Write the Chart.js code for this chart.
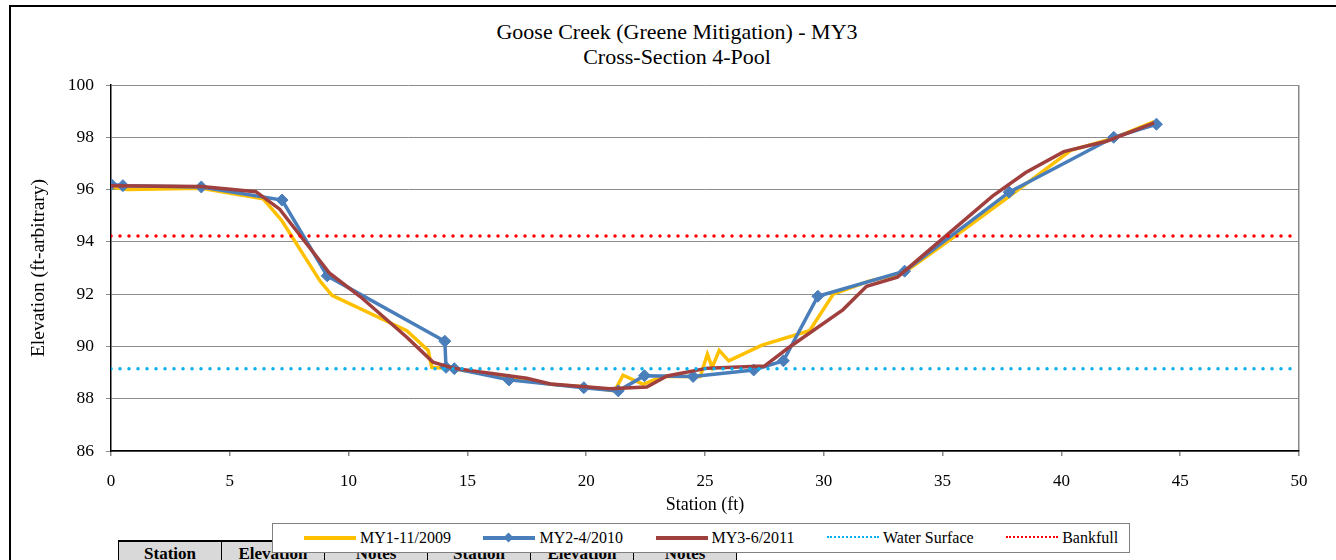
<!DOCTYPE html>
<html>
<head>
<meta charset="utf-8">
<title>Goose Creek - Cross-Section 4-Pool</title>
<script src="https://cdn.jsdelivr.net/npm/chart.js@4.4.0/dist/chart.umd.min.js"></script>
<style>
  html, body { margin: 0; padding: 0; background: #fff; }
  #wrap { position: relative; width: 1336px; height: 560px; overflow: hidden; font-family: "Liberation Serif", "Times New Roman", serif; }
  #frame { position: absolute; left: 9px; top: 5px; width: 1400px; height: 700px; border-left: 2px solid #000; border-top: 2px solid #000; }
  #chart { position: absolute; left: 0; top: 0; }
  #title { position: absolute; left: 377px; width: 600px; top: 19px; text-align: center; font-size: 22px; line-height: 25px; color: #000; }
  #dataTable { position: absolute; left: 118px; top: 540px; border-collapse: collapse; }
  #dataTable th { width: 102px; height: 26px; padding: 2px 0 0 0; vertical-align: top; background: #d9d9d9; border: 1px solid #000; border-top: 2px solid #000; font-size: 17px; font-weight: bold; }
  #legend { position: absolute; left: 272px; top: 523px; width: 858px; height: 30px; background: #fff; border: 1px solid #808080; display: flex; align-items: center; padding-left: 31px; box-sizing: border-box; font-size: 16px; white-space: nowrap; }
  .item { display: flex; align-items: center; flex-shrink: 0; margin-right: 32.5px; }
  .swatch { position: relative; width: 52px; height: 10px; margin-right: 4px; flex-shrink: 0; }
  .swatch .ln { position: absolute; left: 0; right: 0; top: 3px; height: 0; }
  .swatch .dm { position: absolute; left: 22px; top: 1px; width: 7px; height: 7px; transform: rotate(45deg); }
</style>
</head>
<body>
<div id="wrap">
  <div id="frame"></div>
  <div id="title"></div>
  <table id="dataTable">
    <tr><th>Station</th><th>Elevation</th><th>Notes</th><th>Station</th><th>Elevation</th><th>Notes</th></tr>
  </table>
  <canvas id="chart" width="1336" height="560"></canvas>
  <div id="legend"></div>
</div>
<script>
const titleLines = ['Goose Creek (Greene Mitigation) - MY3', 'Cross-Section 4-Pool'];
const xTitle = 'Station (ft)';
const yTitle = 'Elevation (ft-arbitrary)';

// x ticks 0..50 by 5, y ticks 86..100 by 2
const xTicks = [0, 5, 10, 15, 20, 25, 30, 35, 40, 45, 50];
const yTicks = [86, 88, 90, 92, 94, 96, 98, 100];

// MY1-11/2009
const sta1 = [0, 0.7, 3.8, 6.4, 7.2, 8.8, 9.3, 12.45, 13.35, 13.5, 14.4, 16.8, 18.5, 20.0, 21.2, 21.55, 22.4, 23.2, 24.8, 25.1, 25.3, 25.6, 26.0, 27.4, 29.4, 30.4, 31.9, 33.35, 35.5, 37.75, 40.4, 42.2, 43.9];
const elev1 = [96.1, 96.0, 96.05, 95.65, 94.8, 92.5, 91.95, 90.6, 89.85, 89.2, 89.15, 88.8, 88.55, 88.45, 88.3, 88.9, 88.55, 88.85, 88.85, 89.7, 89.2, 89.85, 89.45, 90.05, 90.6, 92.0, 92.5, 92.8, 94.2, 95.7, 97.5, 97.97, 98.6];

// MY2-4/2010
const sta2 = [0, 0.5, 3.8, 7.2, 9.1, 14.05, 14.1, 14.45, 16.75, 19.9, 21.35, 22.45, 24.5, 27.05, 28.3, 29.75, 33.4, 37.8, 42.2, 44.0];
const elev2 = [96.2, 96.15, 96.1, 95.6, 92.7, 90.2, 89.2, 89.15, 88.72, 88.42, 88.3, 88.88, 88.85, 89.1, 89.45, 91.92, 92.88, 95.9, 98.0, 98.5];

// MY3-6/2011
const sta3 = [0, 3.8, 6.1, 7.1, 9.2, 10.5, 12.45, 13.55, 14.4, 17.5, 18.5, 21.0, 22.55, 23.4, 25.1, 27.5, 28.5, 30.8, 31.8, 33.1, 37.1, 38.5, 40.1, 41.9, 43.9];
const elev3 = [96.15, 96.12, 95.92, 95.25, 92.8, 91.9, 90.35, 89.4, 89.17, 88.78, 88.56, 88.38, 88.45, 88.87, 89.17, 89.25, 89.94, 91.4, 92.3, 92.65, 95.75, 96.65, 97.45, 97.85, 98.55];

const waterSurface = 89.15;
const bankfull = 94.22;

function pts(xs, ys) {
  return xs.map((x, i) => ({ x: x, y: ys[i] }));
}
function flat(y) {
  return [{ x: xTicks[0], y: y }, { x: xTicks[xTicks.length - 1], y: y }];
}

const serif = '"Liberation Serif", "Times New Roman", serif';

document.getElementById('title').innerHTML = titleLines.join('<br>');

const datasets = [
  { label: 'MY1-11/2009', data: pts(sta1, elev1), borderColor: '#FFC000', backgroundColor: '#FFC000', borderWidth: 3.5, pointRadius: 0, order: 4 },
  { label: 'MY2-4/2010', data: pts(sta2, elev2), borderColor: '#4A7EBB', backgroundColor: '#4A7EBB', borderWidth: 3.5, pointStyle: 'rectRot', pointRadius: 6, pointBorderWidth: 1, order: 3 },
  { label: 'MY3-6/2011', data: pts(sta3, elev3), borderColor: '#A0403E', backgroundColor: '#A0403E', borderWidth: 3.5, pointRadius: 0, order: 2 },
  { label: 'Water Surface', data: flat(waterSurface), borderColor: '#00B0F0', backgroundColor: '#00B0F0', borderWidth: 3.5, borderDash: [0, 9], borderCapStyle: 'round', pointRadius: 0, order: 1 },
  { label: 'Bankfull', data: flat(bankfull), borderColor: '#FF0000', backgroundColor: '#FF0000', borderWidth: 3.5, borderDash: [0, 9], borderCapStyle: 'round', pointRadius: 0, order: 0 }
];

new Chart(document.getElementById('chart'), {
  type: 'scatter',
  data: { datasets: datasets.map(d => Object.assign({ showLine: true, tension: 0 }, d)) },
  options: {
    responsive: false,
    animation: false,
    devicePixelRatio: 1,
    layout: { padding: { left: 23, right: 37, top: 85, bottom: 40 } },
    plugins: {
      legend: { display: false },
      tooltip: { enabled: false },
      title: { display: false }
    },
    scales: {
      x: {
        type: 'linear',
        min: xTicks[0],
        max: xTicks[xTicks.length - 1],
        afterFit: s => { s.height = 69; },
        ticks: { stepSize: 5, color: '#000', padding: 15, font: { family: serif, size: 17 } },
        grid: {
          color: ctx => (ctx.tick && ctx.tick.value === xTicks[xTicks.length - 1]) ? '#888' : 'rgba(0,0,0,0)',
          tickColor: '#888',
          tickLength: 5,
          lineWidth: 1.5
        },
        border: { color: '#000', width: 1.5 },
        title: { display: true, text: xTitle, color: '#000', font: { family: serif, size: 18 } }
      },
      y: {
        type: 'linear',
        min: yTicks[0],
        max: yTicks[yTicks.length - 1],
        afterFit: s => { s.width = 88; },
        ticks: { stepSize: 2, color: '#000', padding: 12, font: { family: serif, size: 17.5 } },
        grid: { color: '#8c8c8c', tickColor: '#8c8c8c', tickLength: 5, lineWidth: 1 },
        border: { color: '#000', width: 1.5 },
        title: { display: true, text: yTitle, color: '#000', font: { family: serif, size: 19.5 } }
      }
    }
  }
});

// html legend, built from the datasets
const legend = document.getElementById('legend');
datasets.forEach(d => {
  const item = document.createElement('div');
  item.className = 'item';
  const sw = document.createElement('span');
  sw.className = 'swatch';
  const dotted = !!d.borderDash;
  sw.innerHTML = `<span class="ln" style="border-top:${dotted ? '2px dotted' : '4px solid'} ${d.borderColor}"></span>` +
    (d.pointStyle ? `<span class="dm" style="background:${d.borderColor}"></span>` : '');
  const txt = document.createElement('span');
  txt.textContent = d.label;
  item.appendChild(sw);
  item.appendChild(txt);
  legend.appendChild(item);
});
</script>
</body>
</html>
